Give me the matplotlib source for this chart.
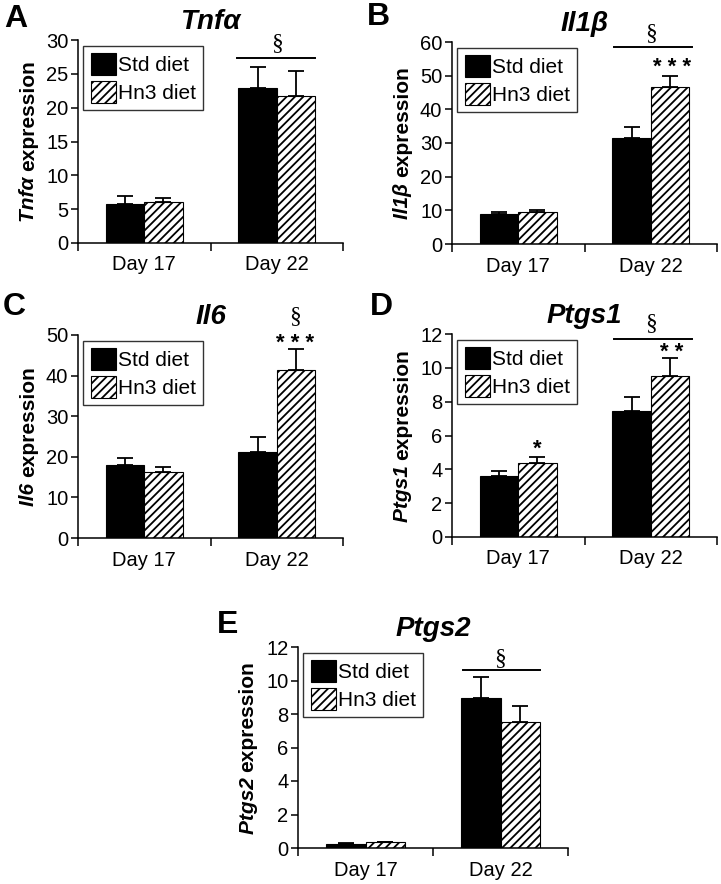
import numpy as np
import matplotlib
matplotlib.use("Agg")
import matplotlib.pyplot as plt

plt.rcParams['font.family'] = ['Liberation Sans', 'DejaVu Sans']
plt.rcParams['hatch.linewidth'] = 1.3

days = ["Day 17", "Day 22"]
groups = ["Std diet", "Hn3 diet"]

# mean values and upper error (Std, Hn3) for day 17 and day 22
tnfa_std = [5.7, 22.9]
tnfa_hn3 = [6.1, 21.7]
tnfa_std_err = [1.3, 3.1]
tnfa_hn3_err = [0.6, 3.7]

il1b_std = [8.8, 31.5]
il1b_hn3 = [9.5, 46.5]
il1b_std_err = [0.8, 3.3]
il1b_hn3_err = [0.7, 3.5]

il6_std = [18.0, 21.1]
il6_hn3 = [16.3, 41.3]
il6_std_err = [1.6, 3.9]
il6_hn3_err = [1.3, 5.2]

ptgs1_std = [3.6, 7.45]
ptgs1_hn3 = [4.4, 9.5]
ptgs1_std_err = [0.3, 0.8]
ptgs1_hn3_err = [0.3, 1.1]

ptgs2_std = [0.25, 8.95]
ptgs2_hn3 = [0.35, 7.55]
ptgs2_std_err = [0.05, 1.25]
ptgs2_hn3_err = [0.0, 0.9]

W, H = 721, 884
fig = plt.figure(figsize=(W / 100, H / 100), dpi=100)


def px_axes(left, top, right, bottom):
    return fig.add_axes([left / W, 1 - bottom / H, (right - left) / W, (bottom - top) / H])


def panel(ax, std, hn3, std_err, hn3_err, ymax, step, gene, letter, lx, ly):
    x = np.array([0.5, 1.5])
    w = 0.29
    ax.bar(x - w / 2, std, w, color='black', edgecolor='black', linewidth=0.8, label=groups[0], zorder=2)
    ax.bar(x + w / 2, hn3, w, color='white', edgecolor='black', hatch='////', linewidth=0.8, label=groups[1], zorder=2)
    ax.errorbar(x - w / 2, std, yerr=[np.zeros(2), std_err], fmt='none', ecolor='black',
                elinewidth=1.3, capsize=6, capthick=1.3, zorder=1)
    ax.errorbar(x + w / 2, hn3, yerr=[np.zeros(2), hn3_err], fmt='none', ecolor='black',
                elinewidth=1.3, capsize=6, capthick=1.3, zorder=1)
    ax.set_xlim(0, 2)
    ax.set_ylim(0, ymax)
    ax.set_yticks(np.arange(0, ymax + 0.01, step))
    ax.set_xticks([0, 1, 2])
    ax.set_xticklabels([])
    ax.set_xticks(x, minor=True)
    ax.set_xticklabels(days, minor=True, fontsize=14.5)
    ax.tick_params(axis='x', which='minor', length=0, pad=9)
    ax.tick_params(axis='x', which='major', length=6, width=1.1, direction='out')
    ax.tick_params(axis='y', length=5, width=1.1, labelsize=14.5, pad=2)
    for s in ['top', 'right']:
        ax.spines[s].set_visible(False)
    for s in ['left', 'bottom']:
        ax.spines[s].set_linewidth(1.1)
    ax.set_title(gene, fontsize=20, fontweight='bold', fontstyle='italic', pad=8)
    leg = ax.legend(loc='upper left', bbox_to_anchor=(0.02, 0.97), borderaxespad=0, fontsize=15,
                    frameon=True, fancybox=False, edgecolor='black', handlelength=1.2,
                    handleheight=1.2, handletextpad=0.1, borderpad=0.35, labelspacing=0.3)
    leg.get_frame().set_linewidth(1.0)
    # panel letter, baseline offset in pixels from the axes top-left corner
    bb = ax.get_position()
    fig.text(bb.x0 + lx / W, bb.y1 + ly / H, letter, fontsize=23, fontweight='bold',
             ha='left', va='baseline')

    # y label: italic gene name then regular bold 'expression'
    lbl_x = -0.185
    t1 = ax.text(lbl_x, 0.5, gene + ' ', transform=ax.transAxes, rotation=90, fontsize=15,
                 fontweight='bold', fontstyle='italic', ha='center', va='bottom')
    t2 = ax.text(lbl_x, 0.5, 'expression', transform=ax.transAxes, rotation=90, fontsize=15,
                 fontweight='bold', ha='center', va='bottom')
    fig.canvas.draw()
    inv = ax.transAxes.inverted()
    b1 = t1.get_window_extent().transformed(inv)
    b2 = t2.get_window_extent().transformed(inv)
    h1 = b1.y1 - b1.y0
    h2 = b2.y1 - b2.y0
    start = 0.5 - (h1 + h2) / 2
    t1.set_y(start)
    t2.set_y(start + h1)


def sig_line(ax, y, x0=1.2, x1=1.79):
    ax.plot([x0, x1], [y, y], color='black', lw=1.4, clip_on=False)


def sect(ax, x, y):
    ax.text(x, y, '§', fontsize=17, family='Liberation Serif', ha='center', va='center', clip_on=False)


def stars(ax, x, y, s):
    ax.text(x, y, ' '.join(s), fontsize=16, fontweight='bold', ha='center', va='center',
            clip_on=False)


axA = px_axes(78, 40, 343, 243)
panel(axA, tnfa_std, tnfa_hn3, tnfa_std_err, tnfa_hn3_err, 30, 5, 'Tnfα', 'A', -74, 13)
sig_line(axA, 27.3)
sect(axA, 1.5, 29.5)

axB = px_axes(452, 42, 717, 244)
panel(axB, il1b_std, il1b_hn3, il1b_std_err, il1b_hn3_err, 60, 10, 'Il1β', 'B', -85, 17)
sig_line(axB, 58.5, 1.22, 1.81)
sect(axB, 1.5, 62.5)
stars(axB, 1.66, 52.5, '***')

axC = px_axes(78, 335, 343, 538)
panel(axC, il6_std, il6_hn3, il6_std_err, il6_hn3_err, 50, 10, 'Il6', 'C', -75, 20)
sect(axC, 1.64, 54.5)
stars(axC, 1.64, 47.8, '***')

axD = px_axes(452, 334, 717, 537)
panel(axD, ptgs1_std, ptgs1_hn3, ptgs1_std_err, ptgs1_hn3_err, 12, 2, 'Ptgs1', 'D', -82, 19)
sig_line(axD, 11.7, 1.22, 1.81)
sect(axD, 1.5, 12.6)
stars(axD, 1.66, 10.9, '**')
stars(axD, 0.645, 5.2, '*')

axE = px_axes(298, 647, 568, 848)
panel(axE, ptgs2_std, ptgs2_hn3, ptgs2_std_err, ptgs2_hn3_err, 12, 2, 'Ptgs2', 'E', -81, 14)
sig_line(axE, 10.6, 1.22, 1.79)
sect(axE, 1.5, 11.3)

fig.savefig("out.png", dpi=100)
